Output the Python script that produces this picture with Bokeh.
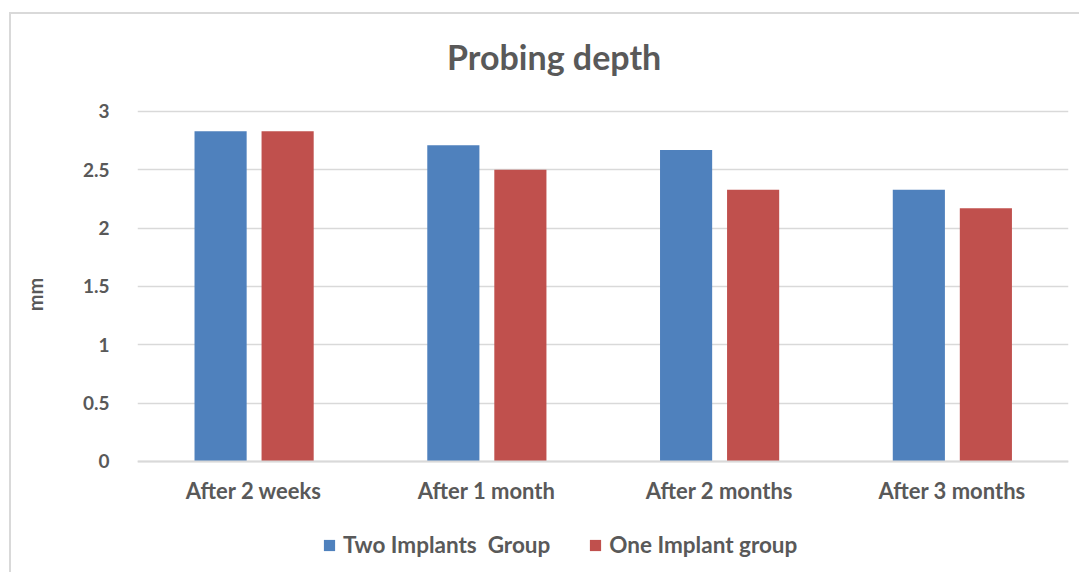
from bokeh.plotting import figure
from bokeh.models import ColumnDataSource, FactorRange, Range1d, FixedTicker, CustomJSTickFormatter, Legend, LegendItem, CategoricalAxis, Label
from bokeh.transform import dodge
from bokeh.embed import file_html
from bokeh.resources import INLINE

categories = ["After 2 weeks", "After 1 month", "After 2 months", "After 3 months"]
two_implants = [2.83, 2.71, 2.67, 2.33]
one_implant = [2.83, 2.50, 2.33, 2.17]
series_names = ["Two Implants\u00a0 Group", "One Implant group"]
y_ticks = [0, 0.5, 1, 1.5, 2, 2.5, 3]
title_text = "Probing depth"

BLUE = "#4F81BD"
RED = "#C0504D"
TXT = "#595959"
GRID = "#D9D9D9"
FONT = "Lato"

src = ColumnDataSource(dict(cat=categories, a=two_implants, b=one_implant))

# range padded above and below so title, category labels and legend sit inside the frame
p = figure(x_range=FactorRange(*categories), y_range=Range1d(-0.9686, 3.8314),
           width=1070, height=560, output_backend="svg", toolbar_location=None,
           min_border_left=126, min_border_right=13, min_border_top=0, min_border_bottom=0,
           x_axis_location=None)
p.margin = (12, 0, 0, 9)
p.styles = {"border-top": "2px solid #D9D9D9", "border-left": "2px solid #D9D9D9"}
p.outline_line_color = None
p.background_fill_color = "white"

r1 = p.vbar(x=dodge("cat", -0.143, range=p.x_range), top="a", width=0.224, source=src,
            fill_color=BLUE, line_color=None)
r2 = p.vbar(x=dodge("cat", 0.145, range=p.x_range), top="b", width=0.224, source=src,
            fill_color=RED, line_color=None)

title = Label(x=1.79, y=3.47, text=title_text, text_align="center", text_baseline="middle",
              text_font=FONT, text_font_size="34px", text_font_style="bold", text_color=TXT)
p.add_layout(title)

xaxis = CategoricalAxis(fixed_location=0)
p.add_layout(xaxis, "below")

p.xgrid.grid_line_color = None
p.ygrid.grid_line_color = GRID
p.ygrid.grid_line_width = 1.5
p.yaxis.ticker = FixedTicker(ticks=y_ticks)
p.yaxis.formatter = CustomJSTickFormatter(code="return tick.toString()")
p.yaxis.axis_line_color = None
p.yaxis.major_tick_line_color = None
p.yaxis.minor_tick_line_color = None
p.yaxis.major_label_standoff = 22
p.yaxis.axis_label = "mm"
p.yaxis.axis_label_standoff = 33
for ax in (xaxis, p.yaxis[0]):
    ax.major_label_text_font = FONT
    ax.major_label_text_font_style = "bold"
    ax.major_label_text_color = TXT
    ax.axis_label_text_font = FONT
    ax.axis_label_text_font_style = "bold"
    ax.axis_label_text_font_size = "20px"
    ax.axis_label_text_color = TXT
p.yaxis.major_label_text_font_size = "19px"
xaxis.major_label_text_font_size = "22px"

xaxis.axis_line_color = GRID
xaxis.axis_line_width = 2
xaxis.major_tick_line_color = None
xaxis.minor_tick_line_color = None
xaxis.major_label_standoff = 10

legend = Legend(items=[LegendItem(label=series_names[0], renderers=[r1]),
                       LegendItem(label=series_names[1], renderers=[r2])],
                orientation="horizontal", location=(185, 16))
legend.label_text_font = FONT
legend.label_text_font_style = "bold"
legend.label_text_font_size = "22.5px"
legend.label_text_color = TXT
legend.glyph_width = 14
legend.glyph_height = 14
legend.label_standoff = 7
legend.spacing = 38
legend.border_line_color = None
legend.background_fill_alpha = 0
legend.margin = 0
legend.padding = 0
p.add_layout(legend)

open("out.html", "w").write(file_html(p, INLINE))
